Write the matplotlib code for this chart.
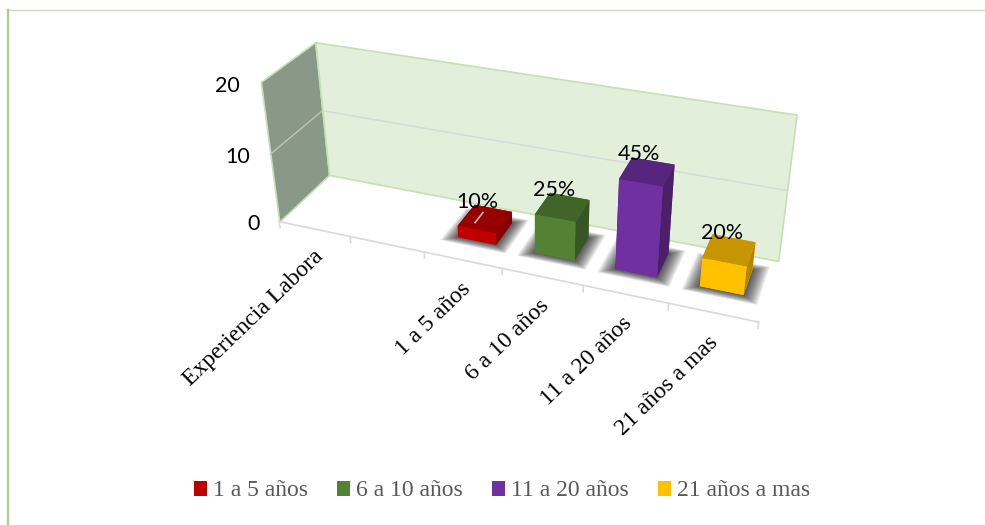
import numpy as np
import matplotlib
matplotlib.use('Agg')
import matplotlib.pyplot as plt
from matplotlib.lines import Line2D
from matplotlib.patches import Patch
from mpl_toolkits.mplot3d import proj3d
from mpl_toolkits.mplot3d.art3d import Poly3DCollection

categories = ['Experiencia Labora', '', '1 a 5 años', '6 a 10 años', '11 a 20 años', '21 años a mas']
bar_slots = [2, 3, 4, 5]
bar_names = ['1 a 5 años', '6 a 10 años', '11 a 20 años', '21 años a mas']
bar_heights = [1.7, 5.6, 12.6, 4.0]
bar_labels = ['10%', '25%', '45%', '20%']
z_ticks = [0, 10, 20]

front_colors = ['#C00000', '#548235', '#7030A0', '#FFC000']
top_colors = ['#960000', '#416528', '#57257D', '#C69500']
side_colors = ['#860000', '#375623', '#4B2069', '#B38600']

W, H = 985, 525
fig = plt.figure(figsize=(W/100, H/100), dpi=100)
# big square axes so nothing gets clipped, view found by fitting to the box corners
ax = fig.add_axes([-18.76/W, -185.93/H, 1050/W, 1050/H], projection='3d')
ax.computed_zorder = False
ax.set_axis_off()
ax.patch.set_alpha(0)
ax.view_init(29.3281, -68.9375, 0.4922)
ax.set_proj_type('persp', focal_length=0.1985)
ax.set_box_aspect((542.375, 114.297, 173.8125), zoom=0.5063)

# walls
xmax, zmax = len(categories), z_ticks[-1]
left_wall = [[(0, 0, 0), (0, 1, 0), (0, 1, zmax), (0, 0, zmax)]]
back_wall = [[(0, 1, 0), (xmax, 1, 0), (xmax, 1, zmax), (0, 1, zmax)]]
ax.add_collection3d(Poly3DCollection(left_wall, facecolors='#8A9887', edgecolors='#C5E0B4', linewidths=1.2, zorder=1))
ax.add_collection3d(Poly3DCollection(back_wall, facecolors='#E2EFDA', edgecolors='#C5E0B4', linewidths=1.2, zorder=1))
ax.plot([0, 0], [0, 1], [10, 10], color='#BFC4BB', lw=1, zorder=2)
ax.plot([0, xmax], [1, 1], [10, 10], color='#D3DBD6', lw=1, zorder=2)

# floor axis and ticks
ax.plot([0, xmax], [0, 0], [0, 0], color='#D9D9D9', lw=1.2, zorder=2)
for i in range(xmax + 1):
    ax.plot([i, i], [0, 0], [0, -0.9], color='#D9D9D9', lw=1.2, zorder=2)

# bars with soft floor shadow
bw, by0, bd = 0.5, 0.35, 0.42
for slot, h, fc, tc, sc in zip(bar_slots, bar_heights, front_colors, top_colors, side_colors):
    x0 = slot + 0.5 - bw/2
    for k in range(18, 0, -1):
        ex, ey = 0.01*k, 0.006*k
        shadow = [[(x0 - ex, by0 - ey, 0), (x0 + bw + ex, by0 - ey, 0), (x0 + bw + ex, by0 + bd + ey, 0), (x0 - ex, by0 + bd + ey, 0)]]
        ax.add_collection3d(Poly3DCollection(shadow, facecolors=(0, 0, 0, 0.05), edgecolors='none', zorder=3))
    ax.bar3d(x0, by0, 0, bw, bd, h, color=[fc, tc, fc, fc, sc, sc], shade=False, edgecolor='none', zorder=4)

# small leader on the first bar
ax.plot([2.42, 2.42], [by0 + 0.11, by0 + 0.31], [bar_heights[0]]*2, color='#BDBDBD', lw=1.2, zorder=5)

ax.set_xlim(0, xmax)
ax.set_ylim(0, 1)
ax.set_zlim(0, zmax)

# text goes on as plain 2D text at the projected spot, Text3D ignores rotation
ax.apply_aspect()
M = ax.get_proj()

def text_at(x, y, z, s, **kw):
    px, py, _ = proj3d.proj_transform(x, y, z, M)
    ax.text2D(px, py, s, transform=ax.transData, zorder=6, **kw)

for i, label in enumerate(categories):
    if label:
        text_at(i + 0.55, 0, -3.7, label, ha='right', va='center', rotation=44, rotation_mode='anchor',
                family='Liberation Serif', fontsize=17, color='black')

for z in z_ticks:
    text_at(-0.3, 0, z - 1.0, str(z), ha='right', va='center', family='Lato', fontsize=15.5, color='black')

for slot, h, lab in zip(bar_slots, bar_heights, bar_labels):
    text_at(slot + 0.4, by0 + bd/2, h + 2.2, lab, ha='center', va='center', family='Lato', fontsize=15.5, color='black')

handles = [Patch(facecolor=c, edgecolor='none') for c in front_colors]
fig.legend(handles, bar_names, ncol=4, loc='center', bbox_to_anchor=(502/W, 1 - 491/H), frameon=False,
           prop={'family': 'Liberation Serif', 'size': 17}, labelcolor='#595959',
           handlelength=0.55, handleheight=0.6, handletextpad=0.25, columnspacing=1.23)

# green page border
fig.add_artist(Line2D([8/W, 1], [1 - 9.5/H]*2, color='#C5D9B5', lw=0.9))
fig.add_artist(Line2D([8/W, 8/W], [0, 1 - 9.5/H], color='#A9D18E', lw=1.6))

fig.savefig('out.png', dpi=100)
